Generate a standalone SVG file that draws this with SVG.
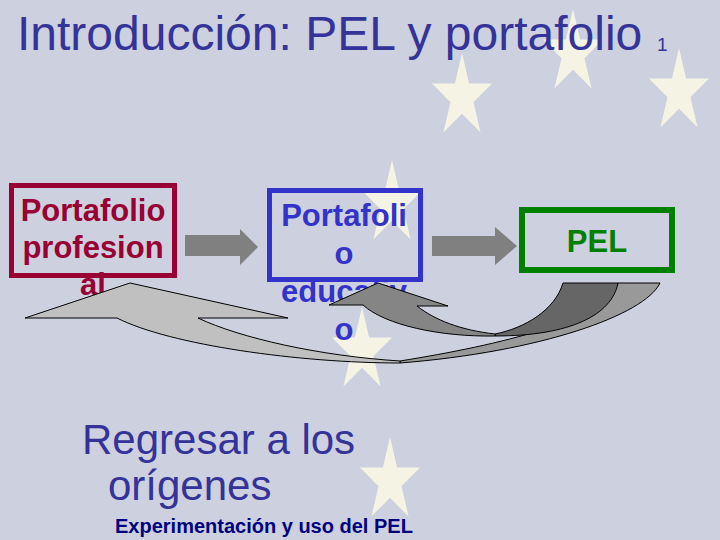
<svg xmlns="http://www.w3.org/2000/svg" xmlns:xlink="http://www.w3.org/1999/xlink" width="720" height="540" viewBox="0 0 720 540">
  <style>
    .star { fill: #f5f3e3; }
    .title { font-family: "Liberation Sans", Arial, sans-serif; fill: #333399; }
    .lbl { font-family: "Liberation Sans", Arial, sans-serif; font-weight: bold; font-size: 31px; text-anchor: middle; }
    .box { fill: none; }
    .block { fill: #808080; }
    .curve { stroke: #000000; stroke-width: 1; stroke-linejoin: round; }
  </style>
  <defs>
    <polygon id="star" class="star" points="0,-44 7.1,-13.6 30.1,-13.6 11.5,5.2 18.6,35.6 0,16.8 -18.6,35.6 -11.5,5.2 -30.1,-13.6 -7.1,-13.6"/>
  </defs>

  <rect x="0" y="0" width="720" height="540" fill="#cdd0de"/>

  <g id="stars">
    <use xlink:href="#star" x="462" y="97"/>
    <use xlink:href="#star" x="573" y="53"/>
    <use xlink:href="#star" x="679" y="92"/>
    <use xlink:href="#star" x="392" y="204"/>
    <use xlink:href="#star" x="362" y="351"/>
    <use xlink:href="#star" x="390" y="481"/>
  </g>

  <g id="title">
    <text class="title" x="17" y="50" font-size="48">Introducción: PEL y portafolio</text>
    <text class="title" x="657" y="51" font-size="19">1</text>
  </g>

  <g id="node-profesional">
    <rect class="box" x="11.5" y="185.5" width="163" height="90" stroke="#990033" stroke-width="5"/>
    <text class="lbl" fill="#990033" x="93" y="221">Portafolio</text>
    <text class="lbl" fill="#990033" x="93" y="258">profesion</text>
    <text class="lbl" fill="#990033" x="93" y="295">al</text>
  </g>

  <g id="node-educativo">
    <rect class="box" x="269.5" y="190.5" width="151" height="89" stroke="#3333cc" stroke-width="5"/>
    <text class="lbl" fill="#3333cc" x="344" y="226">Portafoli</text>
    <text class="lbl" fill="#3333cc" x="344" y="264">o</text>
    <text class="lbl" fill="#3333cc" x="344" y="302">educativ</text>
    <text class="lbl" fill="#3333cc" x="344" y="340">o</text>
  </g>

  <g id="node-pel">
    <rect class="box" x="522" y="210" width="150" height="60" stroke="#008000" stroke-width="6"/>
    <text class="lbl" fill="#008000" x="597" y="252" font-size="38">PEL</text>
  </g>

  <g id="connectors">
    <path class="block" d="M185,235 L240,235 L240,229 L258,247 L240,265 L240,256 L185,256 Z"/>
    <path class="block" d="M432,236 L495,236 L495,227 L517,246 L495,265 L495,256 L432,256 Z"/>
    <!-- light curved arrow back to Portafolio profesional -->
    <path class="curve" fill="#999999" d="M400,361 C500,345 605,320 618,283 L660,283 C645,315 540,352 400,363 Z"/>
    <path class="curve" fill="#c0c0c0" d="M117,318 L25,318 L130,283 L288,318 L198,318 C240,338 320,356 400,361 L400,363 C300,363 170,345 117,318 Z"/>
    <!-- dark curved arrow back to Portafolio educativo -->
    <path class="curve" fill="#666666" d="M495,334 C525,328 555,310 563,283 L618,283 C612,315 570,336 495,336 Z"/>
    <path class="curve" fill="#858585" d="M363,305 L329,305 L378,283 L448,306 L417,306 C435,320 460,330 495,334 L495,336 C440,337 385,325 363,305 Z"/>
  </g>

  <g id="footer">
    <text class="title" x="82" y="454" font-size="42">Regresar a los</text>
    <text class="title" x="108" y="500" font-size="42">orígenes</text>
    <text x="115" y="533" font-family="'Liberation Sans', Arial, sans-serif" font-weight="bold" font-size="20" fill="#000080">Experimentación y uso del PEL</text>
  </g>
</svg>
